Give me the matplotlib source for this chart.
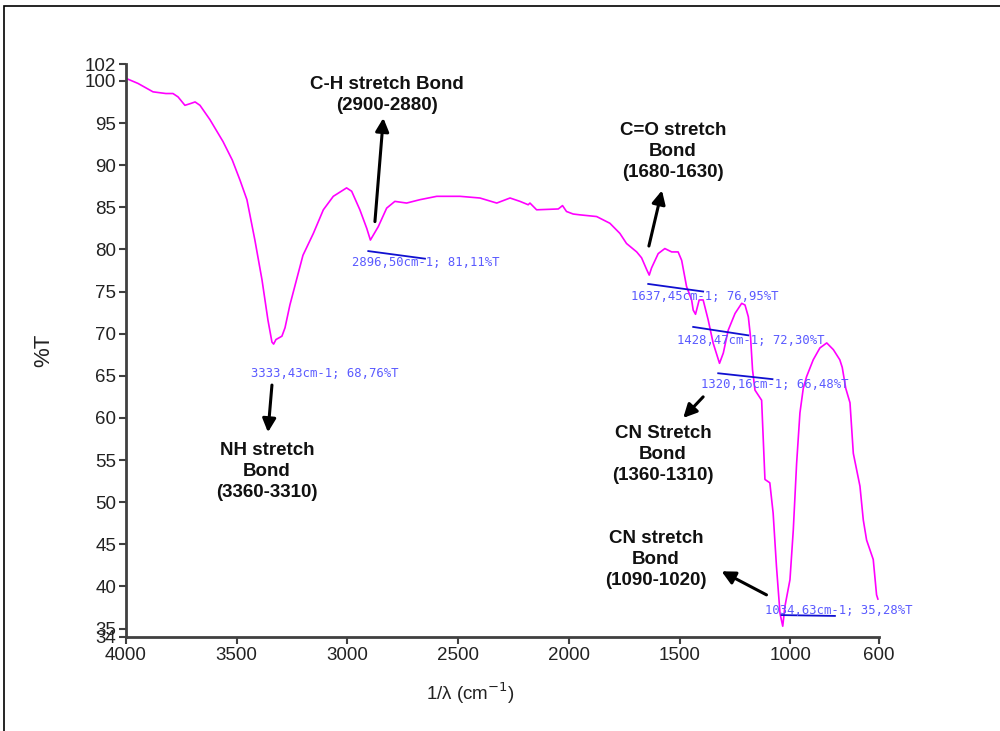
import matplotlib.pyplot as plt
from matplotlib.patches import Rectangle

plt.rcParams['font.family'] = ['Liberation Sans', 'DejaVu Sans']

# FTIR spectrum: wavenumber (cm-1) and transmittance (%T)
wavenumber = [
    4000, 3946, 3878, 3820, 3788, 3765, 3734, 3710, 3688, 3666, 3621, 3562,
    3520, 3485, 3454, 3418, 3386, 3359, 3341, 3333.43, 3323, 3296, 3282, 3260,
    3228, 3201, 3154, 3109, 3064, 3004, 2981, 2944, 2913, 2896.50, 2861, 2823,
    2786, 2733, 2673, 2597, 2492, 2402, 2326, 2266, 2221, 2184, 2176, 2146,
    2048, 2029, 2011, 1981, 1950, 1875, 1815, 1770, 1740, 1694, 1672, 1649,
    1637.45, 1627, 1597, 1567, 1536, 1507, 1491, 1469, 1446, 1439, 1428.47,
    1412, 1394, 1371, 1349, 1320.16, 1303, 1281, 1250, 1220, 1205, 1190, 1180,
    1171, 1160, 1130, 1115, 1093, 1078, 1063, 1047, 1034.63, 1025, 1002, 987,
    972, 957, 942, 927, 897, 867, 836, 806, 777, 766, 750, 731, 716, 686, 671,
    656, 626, 611, 605,
]
transmittance = [
    100.3, 99.7, 98.7, 98.5, 98.5, 98.1, 97.1, 97.3, 97.5, 97.1, 95.4, 92.8,
    90.6, 88.2, 85.9, 81.1, 76.4, 71.6, 69.0, 68.76, 69.3, 69.7, 70.7, 73.4,
    76.6, 79.3, 81.9, 84.7, 86.3, 87.3, 86.9, 84.7, 82.5, 81.11, 82.7, 84.9,
    85.7, 85.5, 85.9, 86.3, 86.3, 86.1, 85.5, 86.1, 85.7, 85.3, 85.5, 84.7,
    84.8, 85.2, 84.5, 84.2, 84.1, 83.9, 83.1, 81.9, 80.7, 79.7, 79.0, 77.6,
    76.95, 77.8, 79.5, 80.1, 79.7, 79.7, 78.7, 75.6, 74.0, 72.8, 72.30,
    74.0, 74.0, 71.6, 68.9, 66.48, 67.7, 70.4, 72.4, 73.6, 73.4, 72.0, 69.6,
    65.7, 63.3, 62.1, 52.7, 52.3, 48.7, 42.4, 36.8, 35.28, 37.6, 40.8, 46.7,
    54.6, 60.6, 63.5, 64.9, 66.9, 68.3, 68.9, 68.1, 66.9, 66.0, 63.5, 61.8,
    55.8, 51.9, 47.9, 45.5, 43.2, 39.0, 38.5,
]

# picked peaks
peak_wn = [3333.43, 2896.50, 1637.45, 1428.47, 1320.16, 1034.63]
peak_t = [68.76, 81.11, 76.95, 72.30, 66.48, 35.28]
# where each peak label is centred
peak_label_x = [3102, 2647, 1386, 1179, 1070, 781]
peak_label_y = [65.3, 78.4, 74.4, 69.2, 64.0, 37.2]
# short blue marker segment under each picked peak (start/end)
seg_x0 = [None, 2906, 1642, 1439, 1326, 1040]
seg_x1 = [None, 2650, 1394, 1190, 1081, 799]
seg_y0 = [None, 79.8, 75.9, 70.8, 65.3, 36.6]
seg_y1 = [None, 78.9, 75.0, 69.8, 64.6, 36.5]

# band assignments: text, text centre, arrow tail, arrow tip
band_text = [
    "NH stretch\nBond\n(3360-3310)",
    "C-H stretch Bond\n(2900-2880)",
    "C=O stretch\nBond\n(1680-1630)",
    "CN Stretch\nBond\n(1360-1310)",
    "CN stretch\nBond\n(1090-1020)",
]
band_xy = [(3363, 53.6), (2822, 98.3), (1530, 91.6), (1576, 55.7), (1607, 43.2)]
arrow_tail = [(3341, 63.9), (2876, 83.3), (1639, 80.4), (1394, 62.5), (1108, 39.0)]
arrow_tip = [(3359, 58.3), (2838, 95.6), (1580, 87.0), (1484, 60.0), (1311, 41.8)]

x_ticks = [4000, 3500, 3000, 2500, 2000, 1500, 1000, 600]
y_ticks = [34, 35, 40, 45, 50, 55, 60, 65, 70, 75, 80, 85, 90, 95, 100, 102]

fig = plt.figure(figsize=(10, 7.31), dpi=100, facecolor="white")
ax = fig.add_axes([0.126, 0.1286, 0.753, 0.7838])

ax.plot(wavenumber, transmittance, color="#ff00ff", lw=1.2)

ax.set_xlim(4000, 600)
ax.set_ylim(34, 102)
ax.set_xticks(x_ticks)
ax.set_yticks(y_ticks)
ax.tick_params(direction="out", length=5, width=1.5, colors="#404040",
               labelsize=13.5, labelcolor="#222222", pad=2)
for s in ("top", "right"):
    ax.spines[s].set_visible(False)
for s in ("left", "bottom"):
    ax.spines[s].set_color("#404040")
    ax.spines[s].set_linewidth(2)

# peak labels with their marker segments
for i, (w, t) in enumerate(zip(peak_wn, peak_t)):
    lbl = f"{w:.2f}".replace(".", ",") + "cm-1; " + f"{t:.2f}".replace(".", ",") + "%T"
    ax.text(peak_label_x[i], peak_label_y[i], lbl, ha="center", va="center",
            fontsize=8.8, color="#5a5aff", family="DejaVu Sans Mono", clip_on=False)
    if seg_x0[i] is not None:
        ax.plot([seg_x0[i], seg_x1[i]], [seg_y0[i], seg_y1[i]], color="#1010d0",
                lw=1.3, clip_on=False)

# band assignments with arrows
for txt, xy, tail, tip in zip(band_text, band_xy, arrow_tail, arrow_tip):
    ax.text(xy[0], xy[1], txt, ha="center", va="center", fontsize=13.5,
            fontweight="bold", color="#111111", linespacing=1.3)
    ax.annotate("", xy=tip, xytext=tail,
                arrowprops=dict(arrowstyle="-|>", color="black", lw=2.2,
                                mutation_scale=20, shrinkA=0, shrinkB=0))

ax.set_ylabel("%T", fontsize=16, color="#222222", labelpad=0)
ax.yaxis.set_label_coords(-0.095, 0.5)
fig.text(0.47, 0.052, "1/λ (cm$^{-1}$)", ha="center", va="center",
         fontsize=13.5, color="#222222")

# thin frame around the figure
fig.patches.append(Rectangle((0.004, -0.1), 1.2, 1.1 - 6 / 731, fill=False,
                             edgecolor="black", lw=1.2,
                             transform=fig.transFigure, figure=fig))

fig.savefig("out.png", dpi=100)
